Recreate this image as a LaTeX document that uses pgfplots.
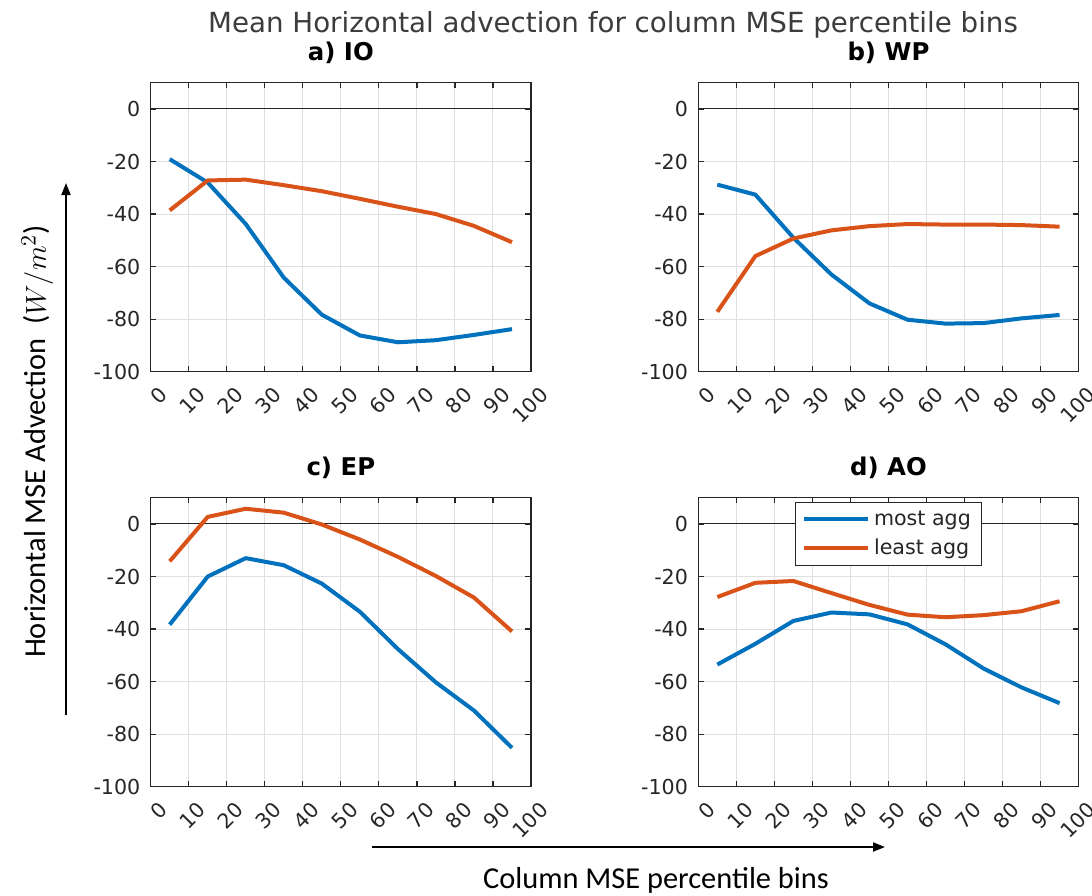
\documentclass[border=0pt]{standalone}
\usepackage{pgfplots}
\pgfplotsset{compat=1.18}
\usepackage{fontspec}
\setmainfont{DejaVu Sans}
\newfontfamily\calib{Carlito}
\usetikzlibrary{arrows.meta}
\definecolor{mblue}{RGB}{0,114,189}
\definecolor{morange}{RGB}{217,83,25}
\definecolor{axgray}{RGB}{38,38,38}
\definecolor{gridgray}{RGB}{223,223,223}
\definecolor{titlegray}{RGB}{60,60,60}

\pgfplotsset{
  panel/.style={
    scale only axis, width=190.15pt, height=144.5pt,
    xmin=0, xmax=100, ymin=-100, ymax=10,
    xtick={0,10,...,100}, ytick={-100,-80,...,0},
    xmajorgrids, ymajorgrids,
    major grid style={draw=gridgray, line width=0.5pt},
    tick align=inside, major tick length=2.8pt,
    axis line style={draw=axgray, line width=0.6pt},
    every tick/.style={draw=axgray, line width=0.6pt},
    /pgf/number format/assume math mode=true,
    ticklabel style={font=\fontsize{10.3}{12}\selectfont, text=axgray},
    xticklabel style={rotate=45, anchor=north east, inner sep=0.5pt, yshift=-7pt, xshift=-1.6pt},
    yticklabel style={anchor=east, inner sep=1pt, xshift=-4pt},
    title style={at={(0.5,1)}, anchor=base, yshift=5.3pt, font=\bfseries\fontsize{12.2}{14}\selectfont},
    every axis plot/.append style={line width=2pt, line join=round},
    anchor=north west,
  }
}

\begin{document}
\begin{tikzpicture}
\useasboundingbox (0,0) rectangle (546pt,-447.5pt);

\begin{axis}[panel, at={(75.35pt,-41.35pt)}, title={a) IO}]
\addplot[axgray, line width=0.5pt, forget plot] coordinates {(0,0) (100,0)};
\addplot[mblue] coordinates {(5,-19.1)(15,-28)(25,-43.8)(35,-64.2)(45,-78.3)(55,-86.2)(65,-88.8)(75,-88)(85,-86)(95,-83.8)};
\addplot[morange] coordinates {(5,-38.6)(15,-27.2)(25,-26.9)(35,-29)(45,-31.3)(55,-34.2)(65,-37.2)(75,-40)(85,-44.5)(95,-50.7)};
\end{axis}

\begin{axis}[panel, at={(349.15pt,-41.35pt)}, title={b) WP}]
\addplot[axgray, line width=0.5pt, forget plot] coordinates {(0,0) (100,0)};
\addplot[mblue] coordinates {(5,-28.8)(15,-32.6)(25,-49)(35,-63)(45,-74)(55,-80.2)(65,-81.7)(75,-81.5)(85,-79.7)(95,-78.4)};
\addplot[morange] coordinates {(5,-77.2)(15,-56)(25,-49.3)(35,-46.2)(45,-44.6)(55,-43.8)(65,-44)(75,-44)(85,-44.2)(95,-44.8)};
\end{axis}

\begin{axis}[panel, at={(75.35pt,-248.85pt)}, title={c) EP}]
\addplot[axgray, line width=0.5pt, forget plot] coordinates {(0,0) (100,0)};
\addplot[mblue] coordinates {(5,-38.3)(15,-20)(25,-13)(35,-15.7)(45,-22.7)(55,-33.4)(65,-47.6)(75,-60.3)(85,-71)(95,-85.2)};
\addplot[morange] coordinates {(5,-14.2)(15,2.7)(25,5.8)(35,4.3)(45,-0.2)(55,-5.9)(65,-12.5)(75,-19.8)(85,-28)(95,-40.9)};
\end{axis}

\begin{axis}[panel, at={(349.15pt,-248.85pt)}, title={d) AO},
  legend style={at={(0.5,0.985)}, anchor=north, draw=axgray, line width=0.5pt, fill=white,
    font=\fontsize{10.3}{12}\selectfont, text=axgray, inner xsep=3.5pt, inner ysep=2pt, row sep=1.5pt,
    cells={anchor=west}},
  legend image code/.code={\draw[#1] (0pt,0pt) -- (32pt,0pt);}]
\addplot[axgray, line width=0.5pt, forget plot] coordinates {(0,0) (100,0)};
\addplot[mblue] coordinates {(5,-53.5)(15,-45.6)(25,-36.9)(35,-33.7)(45,-34.4)(55,-38.2)(65,-45.8)(75,-55)(85,-62.2)(95,-68.2)};
\addplot[morange] coordinates {(5,-27.8)(15,-22.4)(25,-21.7)(35,-26.3)(45,-30.8)(55,-34.5)(65,-35.5)(75,-34.7)(85,-33.2)(95,-29.4)};
\legend{most agg, least agg}
\end{axis}

\node[anchor=base, font=\fontsize{13.85}{16}\selectfont, text=titlegray] at (306.5pt,-16pt) {Mean Horizontal advection for column MSE percentile bins};

\draw[-{Triangle[length=6pt,width=4.5pt]}, line width=1pt] (33pt,-357.5pt) -- (33pt,-91.5pt);
\draw[-{Triangle[length=6pt,width=4.5pt]}, line width=1pt] (186pt,-423.5pt) -- (442.5pt,-423.5pt);

\node[rotate=90, anchor=base, font=\calib\fontsize{15.2}{18}\selectfont] at (23pt,-220.75pt) {Horizontal MSE Advection\ \ ($W/m^2$)};
\node[anchor=base, font=\calib\fontsize{15.2}{18}\selectfont] at (328pt,-444pt) {Column MSE percentile bins};
\end{tikzpicture}
\end{document}
